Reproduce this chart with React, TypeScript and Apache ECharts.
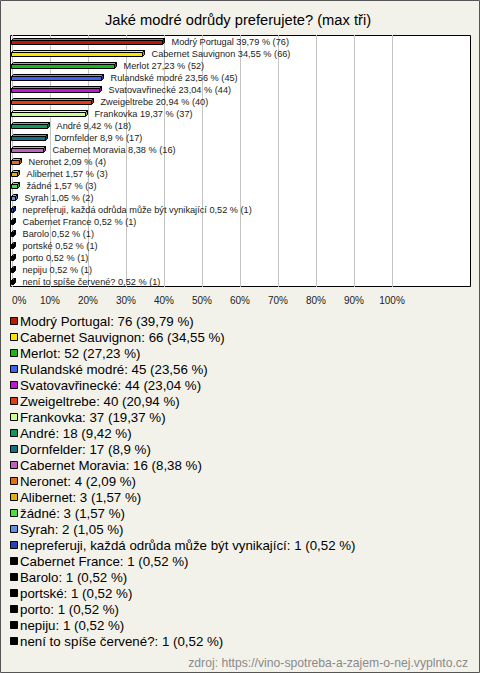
import React, { useEffect, useRef } from 'react';
import * as echarts from 'echarts';

const title = 'Jaké modré odrůdy preferujete? (max tři)';
const source = 'zdroj: https://vino-spotreba-a-zajem-o-nej.vyplnto.cz';

const categories = [
  'Modrý Portugal',
  'Cabernet Sauvignon',
  'Merlot',
  'Rulandské modré',
  'Svatovavřinecké',
  'Zweigeltrebe',
  'Frankovka',
  'André',
  'Dornfelder',
  'Cabernet Moravia',
  'Neronet',
  'Alibernet',
  'žádné',
  'Syrah',
  'nepreferuji, každá odrůda může být vynikající',
  'Cabernet France',
  'Barolo',
  'portské',
  'porto',
  'nepiju',
  'není to spíše červené?',
];

const counts = [76, 66, 52, 45, 44, 40, 37, 18, 17, 16, 4, 3, 3, 2, 1, 1, 1, 1, 1, 1, 1];

const percentLabels = [
  '39,79', '34,55', '27,23', '23,56', '23,04', '20,94', '19,37', '9,42', '8,9', '8,38',
  '2,09', '1,57', '1,57', '1,05', '0,52', '0,52', '0,52', '0,52', '0,52', '0,52', '0,52',
];

const colors = [
  '#b81a04', '#f8e400', '#18b818', '#4262ee', '#c018d0', '#e04010', '#ccff90',
  '#119860', '#127284', '#c060c0', '#e07010', '#e0b010', '#44e040', '#6492e0',
  '#2444b4', '#000000', '#000000', '#000000', '#000000', '#000000', '#000000',
];

const FONT = '"Liberation Sans", Arial, sans-serif';

function shade(hex: string, f: number): string {
  const n = parseInt(hex.slice(1), 16);
  let r = (n >> 16) & 255, g = (n >> 8) & 255, b = n & 255;
  if (f >= 0) {
    r = Math.round(r + (255 - r) * f); g = Math.round(g + (255 - g) * f); b = Math.round(b + (255 - b) * f);
  } else {
    r = Math.round(r * (1 + f)); g = Math.round(g * (1 + f)); b = Math.round(b * (1 + f));
  }
  return `rgb(${r},${g},${b})`;
}

export default function App() {
  const ref = useRef<HTMLDivElement>(null);

  useEffect(() => {
    const chart = echarts.init(ref.current!, null, { renderer: 'svg' });
    const values = percentLabels.map((p) => parseFloat(p.replace(',', '.')));

    const legendItems: any[] = [];
    categories.forEach((name, i) => {
      const y = 321.5 + i * 16;
      legendItems.push({
        type: 'rect',
        shape: { x: 10.5, y: y - 4, width: 7, height: 7 },
        style: { fill: colors[i], stroke: '#000', lineWidth: 1 },
      });
      legendItems.push({
        type: 'text',
        x: 20,
        y,
        style: {
          text: `${name}: ${counts[i]} (${percentLabels[i]} %)`,
          font: `13.3px ${FONT}`,
          fill: '#000',
          textAlign: 'left',
          textVerticalAlign: 'middle',
        },
      });
    });

    chart.setOption({
      animation: false,
      graphic: [
        {
          type: 'rect',
          z: -10,
          shape: { x: 0.5, y: 0.5, width: 479, height: 672 },
          style: { fill: '#f3f2ea', stroke: '#555', lineWidth: 1 },
        },
        {
          type: 'rect',
          z: -5,
          shape: { x: 10.5, y: 35.5, width: 460, height: 251 },
          style: { fill: '#ffffff', stroke: '#000', lineWidth: 1 },
        },
        {
          type: 'text',
          x: 238,
          y: 20,
          style: {
            text: title,
            font: `14.7px ${FONT}`,
            fill: '#000',
            textAlign: 'center',
            textVerticalAlign: 'middle',
          },
        },
        {
          type: 'text',
          x: 468,
          y: 663,
          style: {
            text: source,
            font: `12.2px ${FONT}`,
            fill: '#8a8a8a',
            textAlign: 'right',
            textVerticalAlign: 'middle',
          },
        },
        ...legendItems,
      ],
      grid: { left: 12, top: 35, width: 380, height: 252, containLabel: false },
      xAxis: {
        type: 'value',
        min: 0,
        max: 100,
        interval: 10,
        axisLine: { show: false },
        axisTick: { show: false },
        splitLine: { show: true, lineStyle: { color: '#c4c4c4', width: 1 } },
        axisLabel: {
          formatter: (v: number) => `${v}%`,
          fontSize: 10,
          fontFamily: FONT,
          color: '#222',
          margin: 8,
          alignMinLabel: 'left',
        },
      },
      yAxis: {
        type: 'category',
        inverse: true,
        data: categories,
        axisLine: { show: false },
        axisTick: { show: false },
        axisLabel: { show: false },
        splitLine: { show: false },
      },
      series: [
        {
          type: 'custom',
          clip: false,
          data: values.map((v, i) => [v, i]),
          encode: { x: 0, y: 1 },
          renderItem: (params: any, api: any) => {
            const i = params.dataIndex;
            const v = api.value(0);
            const p0 = api.coord([0, i]);
            const p1 = api.coord([v, i]);
            const x0 = Math.round(p0[0]) - 0.5;
            const x1 = Math.max(Math.round(p1[0]) - 0.5, x0 + 1);
            const c = Math.round(p0[1]) + 0.5;
            const col = colors[i];
            const d = 2;
            return {
              type: 'group',
              children: [
                {
                  type: 'polygon',
                  shape: { points: [[x0, c - 1], [x0 + d, c - 1 - d], [x1 + d, c - 1 - d], [x1, c - 1]] },
                  style: { fill: shade(col, 0.35), stroke: '#000', lineWidth: 1 },
                },
                {
                  type: 'polygon',
                  shape: { points: [[x1, c - 1], [x1 + d, c - 1 - d], [x1 + d, c + 3 - d], [x1, c + 3]] },
                  style: { fill: shade(col, -0.3), stroke: '#000', lineWidth: 1 },
                },
                {
                  type: 'rect',
                  shape: { x: x0, y: c - 1, width: x1 - x0, height: 4 },
                  style: { fill: col, stroke: '#000', lineWidth: 1 },
                },
                {
                  type: 'text',
                  x: x1 + 9,
                  y: c,
                  style: {
                    text: `${categories[i]} ${percentLabels[i]} % (${counts[i]})`,
                    font: `9.2px ${FONT}`,
                    fill: '#222',
                    textAlign: 'left',
                    textVerticalAlign: 'middle',
                  },
                },
              ],
            };
          },
        },
      ],
    });

    return () => chart.dispose();
  }, []);

  return (
    <div
      ref={ref}
      style={{ position: 'absolute', left: 0, top: 0, width: 480, height: 673, background: '#f3f2ea' }}
    />
  );
}
